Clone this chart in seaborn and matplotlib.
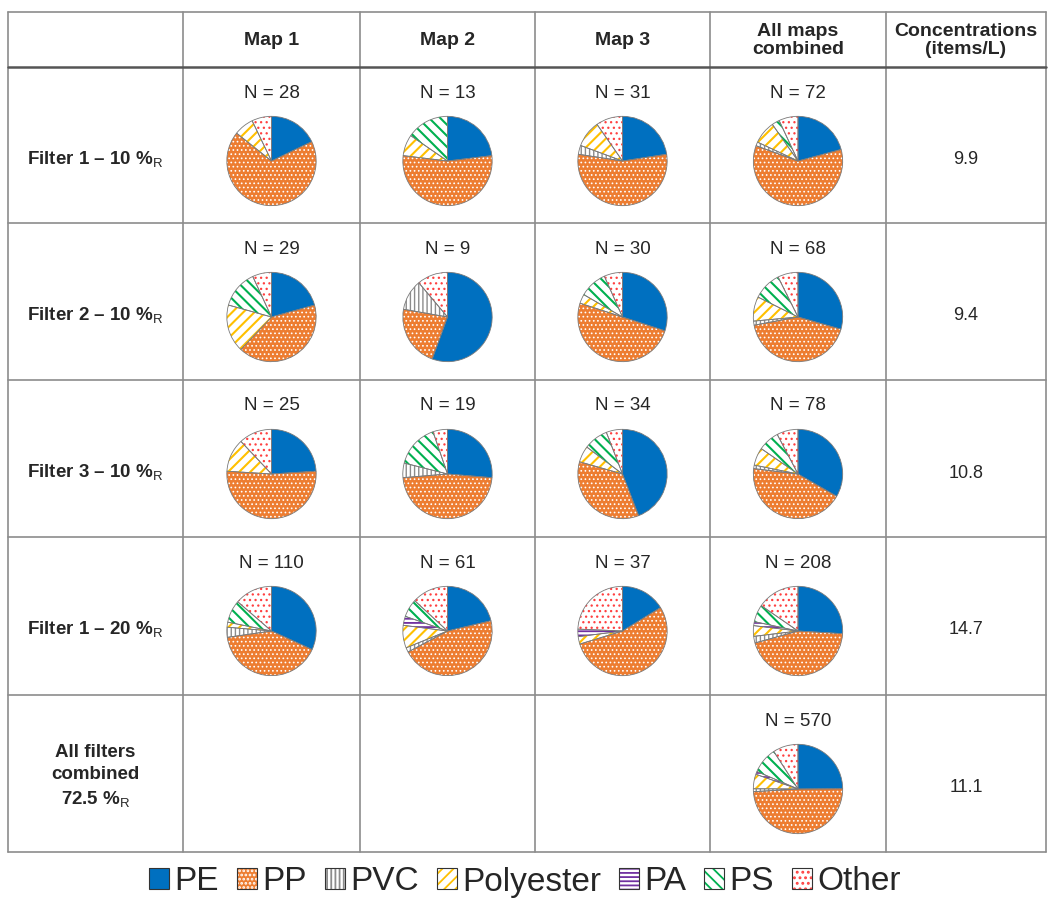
import matplotlib
matplotlib.use("Agg")
import matplotlib.pyplot as plt
import seaborn as sns
from matplotlib.patches import Wedge, Rectangle
from matplotlib.legend_handler import HandlerTuple

sns.set_style("white")
plt.rcParams['font.family'] = ['Liberation Sans', 'DejaVu Sans']
plt.rcParams['mathtext.fontset'] = 'custom'
plt.rcParams['mathtext.rm'] = 'Liberation Sans'
plt.rcParams['mathtext.bf'] = 'Liberation Sans:bold'
plt.rcParams['hatch.linewidth'] = 1.3

# polymer categories (order of the slices, clockwise from 12 o'clock)
polymers = ["PE", "PP", "PVC", "Polyester", "PA", "PS", "Other"]
fill_colors = sns.color_palette(["#0070C0", "#ED7D31", "#FFFFFF", "#FFFFFF",
                                 "#FFFFFF", "#FFFFFF", "#FFFFFF"])
hatch_colors = ["#0070C0", "#FFFFFF", "#8C8C8C", "#FFC000", "#7030A0", "#00B050", "#FF4040"]
hatches = [None, "....", "||||", "///", "----", "\\\\\\", "..."]
hatch_widths = [1.0, 0.7, 1.0, 1.5, 1.3, 1.5, 0.9]

col_headers = ["Map 1", "Map 2", "Map 3", "All maps\ncombined", "Concentrations\n(items/L)"]
row_labels = ["Filter 1 – 10 %$_\\mathrm{R}$", "Filter 2 – 10 %$_\\mathrm{R}$",
              "Filter 3 – 10 %$_\\mathrm{R}$", "Filter 1 – 20 %$_\\mathrm{R}$",
              "All filters\ncombined\n72.5 %$_\\mathrm{R}$"]
concentrations = ["9.9", "9.4", "10.8", "14.7", "11.1"]

# counts per polymer: PE, PP, PVC, Polyester, PA, PS, Other
# columns: Map 1, Map 2, Map 3, All maps combined
filter1_10 = [[5, 19, 0, 2, 0, 0, 2], [3, 7, 0, 1, 0, 2, 0],
              [7, 17, 1, 3, 0, 0, 3], [15, 43, 1, 6, 0, 2, 5]]
filter2_10 = [[6, 12, 0, 5, 0, 4, 2], [5, 2, 1, 0, 0, 0, 1],
              [9, 15, 0, 1, 0, 3, 2], [20, 29, 1, 6, 0, 7, 5]]
filter3_10 = [[6, 13, 0, 3, 0, 0, 3], [5, 9, 1, 0, 0, 3, 1],
              [15, 12, 0, 2, 0, 3, 2], [26, 34, 1, 5, 0, 6, 6]]
filter1_20 = [[35, 45, 4, 2, 0, 9, 15], [13, 28, 1, 5, 2, 4, 8],
              [6, 20, 0, 1, 1, 0, 9], [54, 93, 5, 8, 3, 13, 32]]
all_filters = [142, 280, 6, 30, 6, 54, 52]

W, H = 1048, 901
col_edges = [8, 183, 360, 535, 710, 886, 1046]
row_edges = [12, 67, 223, 380, 537, 695, 852]

fig = plt.figure(figsize=(W / 100, H / 100), dpi=100)
ax = fig.add_axes([0, 0, 1, 1])
ax.set_xlim(0, W)
ax.set_ylim(H, 0)
ax.axis('off')

grid_col = "#8c8c8c"
for x in col_edges:
    ax.plot([x, x], [row_edges[0], row_edges[-1]], color=grid_col, lw=1.2)
for k, y in enumerate(row_edges):
    ax.plot([col_edges[0], col_edges[-1]], [y, y],
            color="#555555" if k == 1 else grid_col, lw=1.8 if k == 1 else 1.2)

narrow = ['Liberation Sans Narrow', 'Liberation Sans']
for j, txt in enumerate(col_headers):
    cx = (col_edges[j + 1] + col_edges[j + 2]) / 2
    ax.text(cx, (row_edges[0] + row_edges[1]) / 2 + 1, txt, ha='center', va='center',
            fontsize=14, fontweight='bold', family=narrow, linespacing=1.05)

for i, txt in enumerate(row_labels):
    top = row_edges[i + 1]
    cy = top + 93 if i < 4 else top + 82
    ax.text((col_edges[0] + col_edges[1]) / 2, cy, txt, ha='center', va='center',
            fontsize=13.5, fontweight='bold', linespacing=1.4)
    ax.text((col_edges[5] + col_edges[6]) / 2, top + 93, concentrations[i], ha='center',
            va='center', fontsize=13)


def hatched(patch, k):
    if hasattr(patch, "set_hatch_linewidth"):
        patch.set_hatch_linewidth(hatch_widths[k])
    return patch


def draw_pie(i, j, counts):
    cx = (col_edges[j + 1] + col_edges[j + 2]) / 2
    top = row_edges[i + 1]
    cy = top + 94
    ax.text(cx, top + 26, f"N = {sum(counts)}", ha='center', va='center', fontsize=13.5)
    r = 46
    pax = fig.add_axes([(cx - r) / W, 1 - (cy + r) / H, 2 * r / W, 2 * r / H])
    idx = [k for k, c in enumerate(counts) if c > 0]
    wedges, _ = pax.pie([counts[k] for k in idx], colors=[fill_colors[k] for k in idx],
                        startangle=90, counterclock=False, radius=1,
                        wedgeprops=dict(linewidth=0))
    for w, k in zip(wedges, idx):
        if hatches[k]:
            pax.add_patch(hatched(Wedge(w.center, w.r, w.theta1, w.theta2, facecolor='none',
                                        edgecolor=hatch_colors[k], linewidth=0,
                                        hatch=hatches[k]), k))
        pax.add_patch(Wedge(w.center, w.r, w.theta1, w.theta2, facecolor='none',
                            edgecolor='#7a7a7a', linewidth=0.6))
    pax.set_xlim(-1.03, 1.03)
    pax.set_ylim(-1.03, 1.03)
    pax.axis('off')


for i, row in enumerate([filter1_10, filter2_10, filter3_10, filter1_20]):
    for j, counts in enumerate(row):
        draw_pie(i, j, counts)
draw_pie(4, 3, all_filters)

handles = []
for k in range(len(polymers)):
    base = hatched(Rectangle((0, 0), 1, 1, facecolor=fill_colors[k],
                             edgecolor=hatch_colors[k], linewidth=0, hatch=hatches[k]), k)
    outline = Rectangle((0, 0), 1, 1, facecolor='none', edgecolor='#333333', linewidth=0.8)
    handles.append((base, outline))

fig.legend(handles, polymers, loc='center', bbox_to_anchor=(525 / W, 1 - 882 / H),
           ncol=7, frameon=False, prop=dict(family=narrow, size=24),
           handlelength=0.6, handleheight=0.6, handletextpad=0.15, columnspacing=0.55,
           handler_map={tuple: HandlerTuple(ndivide=1, pad=0)})

fig.savefig("out.png", dpi=100)
plt.close(fig)
